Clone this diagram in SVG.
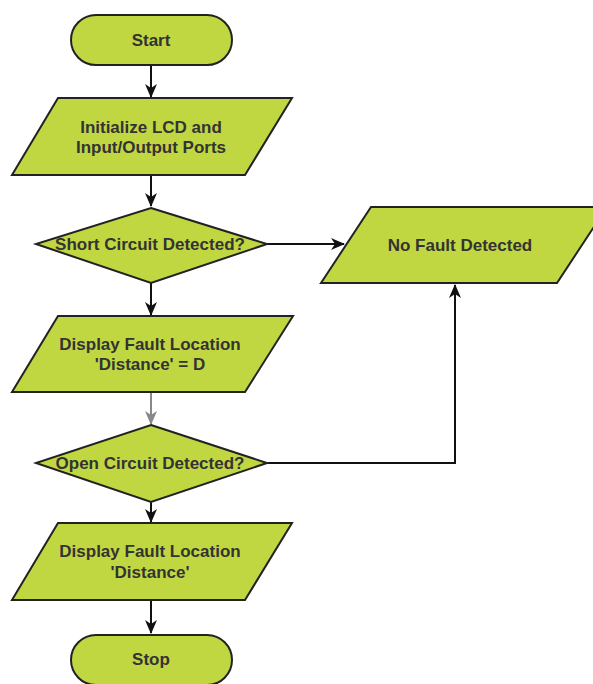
<svg xmlns="http://www.w3.org/2000/svg" width="593" height="684" viewBox="0 0 593 684">
<defs>
<style>
.shape{fill:#C1D742;stroke:#222;stroke-width:2}
.lbl{font-family:"Liberation Sans",Arial,sans-serif;font-weight:bold;font-size:17px;fill:#333;text-anchor:middle}
.conn{fill:none;stroke:#111;stroke-width:2}
.gray{stroke:#888}
</style>
<marker id="ah" markerWidth="14" markerHeight="12" viewBox="0 0 14 12" refX="13" refY="6" orient="auto" markerUnits="userSpaceOnUse">
<path d="M0,0 L14,6 L0,12 L4,6 Z" fill="#111"/>
</marker>
<marker id="ahg" markerWidth="14" markerHeight="12" viewBox="0 0 14 12" refX="13" refY="6" orient="auto" markerUnits="userSpaceOnUse">
<path d="M0,0 L14,6 L0,12 L4,6 Z" fill="#888"/>
</marker>
</defs>
<rect width="593" height="684" fill="#fff"/>
<g id="connectors">
<line class="conn" x1="151" y1="65" x2="151" y2="97" marker-end="url(#ah)"/>
<line class="conn" x1="151" y1="175" x2="151" y2="206" marker-end="url(#ah)"/>
<line class="conn" x1="151" y1="283" x2="151" y2="315" marker-end="url(#ah)"/>
<line class="conn gray" x1="151" y1="392" x2="151" y2="424" marker-end="url(#ahg)"/>
<line class="conn" x1="151" y1="502" x2="151" y2="522" marker-end="url(#ah)"/>
<line class="conn" x1="151" y1="600" x2="151" y2="633" marker-end="url(#ah)"/>
<line class="conn" x1="267" y1="244" x2="344" y2="244" marker-end="url(#ah)"/>
<polyline class="conn" points="267,463 455,463 455,285" marker-end="url(#ah)"/>
</g>
<g id="start">
<rect class="shape" x="71" y="15" width="161" height="50" rx="25" ry="25"/>
<text class="lbl" x="151" y="46">Start</text>
</g>
<g id="init">
<polygon class="shape" points="58,98 292,98 245,175 12,175"/>
<text class="lbl" x="151" y="133">Initialize LCD and</text>
<text class="lbl" x="151" y="153">Input/Output Ports</text>
</g>
<g id="short">
<polygon class="shape" points="151,208 267,244 151,283 36,244"/>
<text class="lbl" x="150" y="250">Short Circuit Detected?</text>
</g>
<g id="nofault">
<polygon class="shape" points="371,207 607,207 557,283 321,283"/>
<text class="lbl" x="460" y="251">No Fault Detected</text>
</g>
<g id="displayD">
<polygon class="shape" points="58,316 293,316 245,392 12,392"/>
<text class="lbl" x="150" y="350">Display Fault Location</text>
<text class="lbl" x="150" y="370">'Distance' = D</text>
</g>
<g id="open">
<polygon class="shape" points="151,425 267,463 151,502 36,463"/>
<text class="lbl" x="150" y="469">Open Circuit Detected?</text>
</g>
<g id="display">
<polygon class="shape" points="58,523 292,523 245,600 12,600"/>
<text class="lbl" x="150" y="557">Display Fault Location</text>
<text class="lbl" x="150" y="578">'Distance'</text>
</g>
<g id="stop">
<rect class="shape" x="71" y="635" width="161" height="50" rx="25" ry="25"/>
<text class="lbl" x="151" y="665">Stop</text>
</g>
</svg>
